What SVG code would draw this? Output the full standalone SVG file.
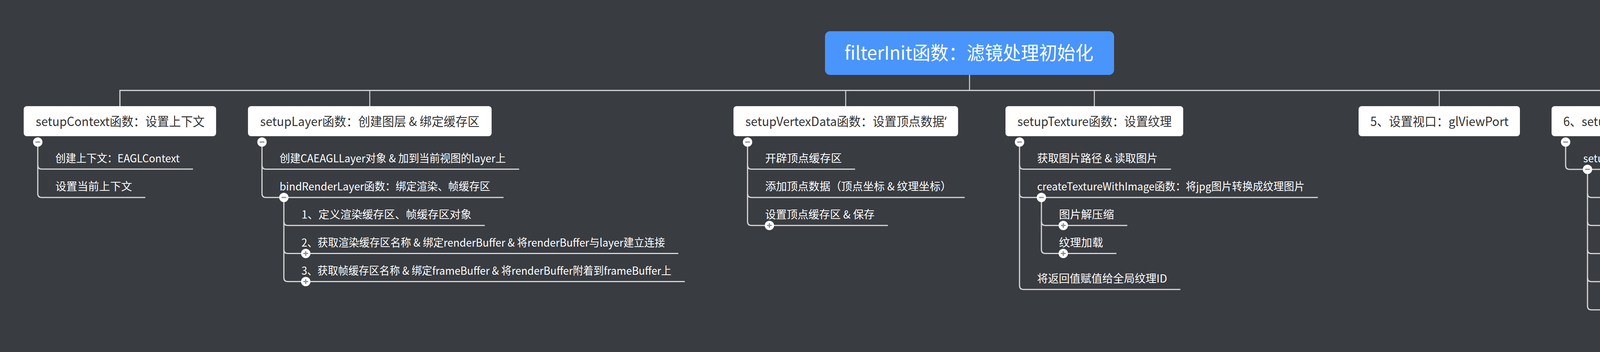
<svg xmlns="http://www.w3.org/2000/svg" width="4964" height="902" viewBox="0 0 4964 902">
<style>
text{font-family:"Noto Sans CJK SC","Noto Sans",sans-serif;}
.q{font-family:"Noto Sans","Liberation Sans",sans-serif;}
.bg{fill:#393c41;}
.root{fill:#4995fc;}
.node{fill:#ffffff;}
.rt{font-size:48px;fill:#ffffff;}
.nt{font-size:32px;fill:#333333;}
.ct{font-size:28px;fill:#ffffff;}
.ln{fill:none;stroke:#d6d6d6;stroke-width:3;}
.lt{fill:none;stroke:#d6d6d6;stroke-width:2.5;}
.btn{fill:#ffffff;}
.sg{stroke:#8a8a8a;stroke-width:3;}
</style>
<defs>
<g id="minus"><circle class="btn" r="12"/><line class="sg" x1="-6" y1="0" x2="6" y2="0"/></g>
<g id="plus"><circle class="btn" r="12"/><line class="sg" x1="-6" y1="0" x2="6" y2="0"/><line class="sg" x1="0" y1="-6" x2="0" y2="6"/></g>
</defs>
<rect class="bg" x="0" y="0" width="4964" height="902"/>

<g id="connectors">
<path class="lt" d="M2482 192 V231.7"/>
<path class="ln" d="M307 272 V231.7 H4380 V272"/>
<path class="lt" d="M946.6 231.7 V272 M2165 231.7 V272 M2801.5 231.7 V272 M3684.5 231.7 V272"/>
<path class="ln" d="M96.7 376 V496 Q96.7 506 106.7 506 H372"/>
<path class="ln" d="M96.7 423.3 Q96.7 433.3 106.7 433.3 H494"/>
<path class="ln" d="M670.7 376 V496 Q670.7 506 680.7 506 H1289"/>
<path class="ln" d="M670.7 423.5 Q670.7 433.5 680.7 433.5 H1329"/>
<path class="ln" d="M726.7 518 V711.5 Q726.7 721.5 736.7 721.5 H1753"/>
<path class="ln" d="M726.7 567.7 Q726.7 577.7 736.7 577.7 H1241"/>
<path class="ln" d="M726.7 639.5 Q726.7 649.5 736.7 649.5 H1736.5"/>
<path class="ln" d="M1913.7 376 V567.7 Q1913.7 577.7 1923.7 577.7 H2273"/>
<path class="ln" d="M1913.7 423.5 Q1913.7 433.5 1923.7 433.5 H2189"/>
<path class="ln" d="M1913.7 496 Q1913.7 506 1923.7 506 H2469.6"/>
<path class="ln" d="M2610 376 V731.7 Q2610 741.7 2620 741.7 H3021.8"/>
<path class="ln" d="M2610 423.5 Q2610 433.5 2620 433.5 H2997.7"/>
<path class="ln" d="M2610 496 Q2610 506 2620 506 H3373.7"/>
<path class="ln" d="M2666 518 V639.5 Q2666 649.5 2676 649.5 H2858"/>
<path class="ln" d="M2666 567.7 Q2666 577.7 2676 577.7 H2885.8"/>
<path class="ln" d="M4008 376 V424 Q4008 434 4018 434 H4879"/>
<path class="ln" d="M4064 446 V784 Q4064 794 4074 794 H4340.6"/>
<path class="ln" d="M4064 496 Q4064 506 4074 506 H4732.5"/>
<path class="ln" d="M4064 567.7 Q4064 577.7 4074 577.7 H4340.6"/>
<path class="ln" d="M4064 639.7 Q4064 649.7 4074 649.7 H4297"/>
<path class="ln" d="M4064 711.7 Q4064 721.7 4074 721.7 H4660"/>
</g>

<g id="root">
<rect class="root" x="2112" y="80" width="740" height="112" rx="13"/>
<text class="rt" x="2162" y="153" textLength="637" lengthAdjust="spacingAndGlyphs">filterInit函数：滤镜处理初始化</text>
</g>

<g id="setupContext">
<rect class="node" x="60.7" y="272" width="492.5" height="77" rx="8"/>
<text class="nt" x="91.5" y="322.5" textLength="432.5" lengthAdjust="spacingAndGlyphs">setupContext函数：设置上下文</text>
<use href="#minus" x="96.7" y="364"/>
<text class="ct" x="141.7" y="415.7" textLength="318.3" lengthAdjust="spacingAndGlyphs">创建上下文：EAGLContext</text>
<text class="ct" x="141.7" y="488.4" textLength="196.3" lengthAdjust="spacingAndGlyphs">设置当前上下文</text>
</g>

<g id="setupLayer">
<rect class="node" x="634.8" y="272" width="623.7" height="77" rx="8"/>
<text class="nt" x="666" y="322.5" textLength="561.6" lengthAdjust="spacingAndGlyphs">setupLayer函数：创建图层 &amp; 绑定缓存区</text>
<use href="#minus" x="670.7" y="364"/>
<text class="ct" x="715.7" y="415.9" textLength="579.3" lengthAdjust="spacingAndGlyphs">创建CAEAGLLayer对象 &amp; 加到当前视图的layer上</text>
<text class="ct" x="715.7" y="488.4" textLength="539.3" lengthAdjust="spacingAndGlyphs">bindRenderLayer函数：绑定渲染、帧缓存区</text>
<use href="#minus" x="726.7" y="506"/>
<text class="ct" x="771.7" y="560.1" textLength="435.3" lengthAdjust="spacingAndGlyphs">1、定义渲染缓存区、帧缓存区对象</text>
<text class="ct" x="771.7" y="631.9" textLength="930.8" lengthAdjust="spacingAndGlyphs">2、获取渲染缓存区名称 &amp; 绑定renderBuffer &amp; 将renderBuffer与layer建立连接</text>
<use href="#plus" x="782.7" y="649.5"/>
<text class="ct" x="771.7" y="703.9" textLength="947.3" lengthAdjust="spacingAndGlyphs">3、获取帧缓存区名称 &amp; 绑定frameBuffer &amp; 将renderBuffer附着到frameBuffer上</text>
<use href="#plus" x="782.7" y="721.5"/>
</g>

<g id="setupVertexData">
<rect class="node" x="1877.7" y="272" width="575" height="77" rx="8"/>
<text class="nt" x="1908" y="322.5" textLength="515" lengthAdjust="spacingAndGlyphs">setupVertexData函数：设置顶点数据<tspan class="q">‘</tspan></text>
<use href="#minus" x="1913.7" y="364"/>
<text class="ct" x="1958.7" y="415.9" textLength="196.3" lengthAdjust="spacingAndGlyphs">开辟顶点缓存区</text>
<text class="ct" x="1958.7" y="488.4" textLength="476.9" lengthAdjust="spacingAndGlyphs">添加顶点数据（顶点坐标 &amp; 纹理坐标）</text>
<text class="ct" x="1958.7" y="560.1" textLength="280.3" lengthAdjust="spacingAndGlyphs">设置顶点缓存区 &amp; 保存</text>
<use href="#plus" x="1969.7" y="577.7"/>
</g>

<g id="setupTexture">
<rect class="node" x="2574" y="272" width="455" height="77" rx="8"/>
<text class="nt" x="2604.5" y="322.5" textLength="395" lengthAdjust="spacingAndGlyphs">setupTexture函数：设置纹理</text>
<use href="#minus" x="2610" y="364"/>
<text class="ct" x="2655" y="415.9" textLength="308.7" lengthAdjust="spacingAndGlyphs">获取图片路径 &amp; 读取图片</text>
<text class="ct" x="2655" y="488.4" textLength="684.7" lengthAdjust="spacingAndGlyphs">createTextureWithImage函数：将jpg图片转换成纹理图片</text>
<use href="#minus" x="2666" y="506"/>
<text class="ct" x="2711" y="560.1" textLength="140.8" lengthAdjust="spacingAndGlyphs">图片解压缩</text>
<use href="#plus" x="2722" y="577.7"/>
<text class="ct" x="2711" y="631.9" textLength="113" lengthAdjust="spacingAndGlyphs">纹理加载</text>
<use href="#plus" x="2722" y="649.5"/>
<text class="ct" x="2655" y="724.1" textLength="332.8" lengthAdjust="spacingAndGlyphs">将返回值赋值给全局纹理ID</text>
</g>

<g id="setViewport">
<rect class="node" x="3478" y="272" width="413" height="77" rx="8"/>
<text class="nt" x="3508" y="322.5" textLength="354" lengthAdjust="spacingAndGlyphs">5、设置视口：glViewPort</text>
</g>

<g id="setupNormalShaderProgram">
<rect class="node" x="3972" y="272" width="816" height="77" rx="8"/>
<text class="nt" x="4002" y="322.5" textLength="756" lengthAdjust="spacingAndGlyphs">6、setupNormalShaderProgram函数：设置默认着色器</text>
<use href="#minus" x="4008" y="364"/>
<text class="ct" x="4053" y="416.4" textLength="792" lengthAdjust="spacingAndGlyphs">setupShaderProgramWithName函数：公共的着色器传递数据方法</text>
<use href="#minus" x="4064" y="434"/>
<text class="ct" x="4109" y="488.4" textLength="589.5" lengthAdjust="spacingAndGlyphs">1、programWithShaderName函数：获取program</text>
<use href="#plus" x="4120" y="506"/>
<text class="ct" x="4109" y="560.1" textLength="197.6" lengthAdjust="spacingAndGlyphs">2、使用program</text>
<text class="ct" x="4109" y="632.1" textLength="154" lengthAdjust="spacingAndGlyphs">3、数据传递</text>
<use href="#plus" x="4120" y="649.7"/>
<text class="ct" x="4109" y="704.1" textLength="517" lengthAdjust="spacingAndGlyphs">4、激活纹理 &amp; 绑定纹理 &amp; 设置纹理采样器</text>
<use href="#plus" x="4120" y="721.7"/>
<text class="ct" x="4109" y="776.4" textLength="197.6" lengthAdjust="spacingAndGlyphs">5、保存program</text>
</g>
</svg>
